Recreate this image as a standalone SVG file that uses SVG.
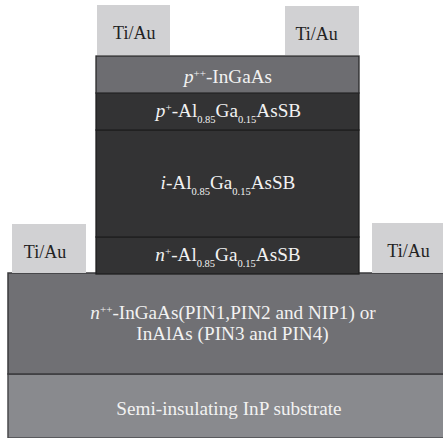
<svg xmlns="http://www.w3.org/2000/svg" width="443" height="438" viewBox="0 0 443 438">
<style>
.metal{fill:#d1d1d3;}
.dark{fill:#333334;stroke:#1f1f20;stroke-width:1.3;}
.lt{font-family:"Liberation Serif","Times New Roman",serif;font-size:19.2px;fill:#f2f2f2;text-anchor:middle;}
.mt{font-family:"Liberation Serif","Times New Roman",serif;font-size:18px;fill:#222;text-anchor:middle;}
.sub{font-size:10.5px;}
.sup{font-size:11px;}
.it{font-style:italic;}
</style>
<rect width="443" height="438" fill="#ffffff"/>
<g id="substrate">
<rect x="8" y="374" width="440" height="64" fill="#898a8e" stroke="#4a4a4c" stroke-width="1.5"/>
<text class="lt" x="229" y="415">Semi-insulating InP substrate</text>
</g>
<g id="n-contact-layer">
<rect x="8" y="273" width="440" height="101" fill="#707074" stroke="#3a3a3c" stroke-width="1.5"/>
<text class="lt" x="233" y="319"><tspan class="it">n</tspan><tspan class="sup" dy="-6">++</tspan><tspan dy="6">-InGaAs(PIN1,PIN2 and NIP1) or</tspan></text>
<text class="lt" x="232.5" y="340">InAlAs (PIN3 and PIN4)</text>
</g>
<g id="n-plus-layer">
<rect class="dark" x="96" y="237" width="263" height="37"/>
<text class="lt" x="228" y="261"><tspan class="it">n</tspan><tspan class="sup" dy="-6">+</tspan><tspan dy="6">-Al</tspan><tspan class="sub" dy="6">0.85</tspan><tspan dy="-6">Ga</tspan><tspan class="sub" dy="6">0.15</tspan><tspan dy="-6">AsSB</tspan></text>
</g>
<g id="i-layer">
<rect class="dark" x="96" y="130" width="263" height="107"/>
<text class="lt" x="228" y="189"><tspan class="it">i</tspan>-Al<tspan class="sub" dy="6">0.85</tspan><tspan dy="-6">Ga</tspan><tspan class="sub" dy="6">0.15</tspan><tspan dy="-6">AsSB</tspan></text>
</g>
<g id="p-plus-layer">
<rect class="dark" x="96" y="93" width="263" height="37"/>
<text class="lt" x="228.5" y="117"><tspan class="it">p</tspan><tspan class="sup" dy="-6">+</tspan><tspan dy="6">-Al</tspan><tspan class="sub" dy="6">0.85</tspan><tspan dy="-6">Ga</tspan><tspan class="sub" dy="6">0.15</tspan><tspan dy="-6">AsSB</tspan></text>
</g>
<g id="p-contact-layer">
<rect x="96" y="56" width="263" height="37" fill="#6d6d71" stroke="#2a2a2b" stroke-width="1.3"/>
<text class="lt" x="228" y="83"><tspan class="it">p</tspan><tspan class="sup" dy="-6">++</tspan><tspan dy="6">-InGaAs</tspan></text>
</g>
<g id="metal-top-left">
<rect class="metal" x="97" y="5" width="73" height="50"/>
<text class="mt" x="134.3" y="39">Ti/Au</text>
</g>
<g id="metal-top-right">
<rect class="metal" x="285" y="6" width="74" height="49"/>
<text class="mt" x="316.7" y="39.5">Ti/Au</text>
</g>
<g id="metal-bottom-left">
<rect class="metal" x="12" y="224" width="74" height="49"/>
<text class="mt" x="45" y="258">Ti/Au</text>
</g>
<g id="metal-bottom-right">
<rect class="metal" x="372" y="223" width="71" height="50"/>
<text class="mt" x="408.5" y="256.5">Ti/Au</text>
</g>
<g id="connectors"></g>
</svg>
